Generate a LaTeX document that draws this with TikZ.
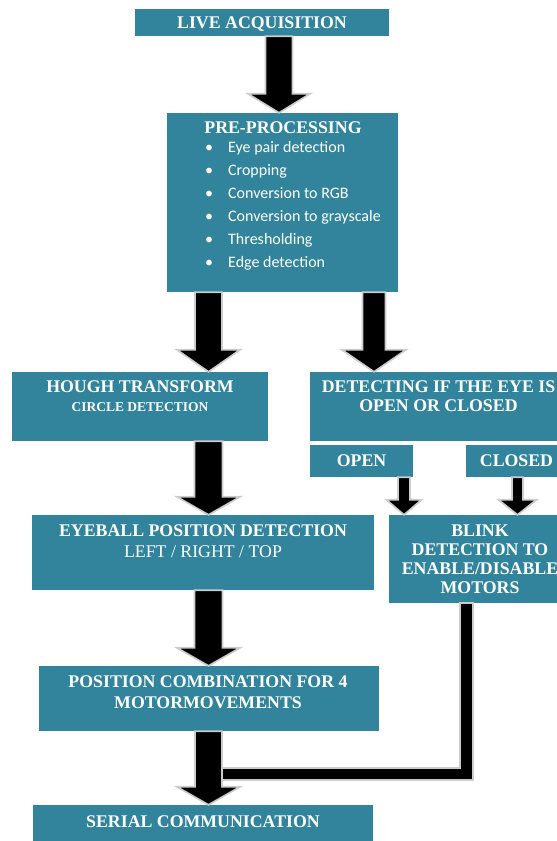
\documentclass[tikz,border=0pt]{standalone}
\usepackage{fontspec}
\setmainfont{Liberation Serif}
\newfontfamily\calfont{Carlito}
\usetikzlibrary{calc}
\definecolor{tealbox}{HTML}{31849B}
\newcommand\blockarrow[6]{%
  \draw[arr] let \p1=(#2.south), \p2=(#3.north) in
   (#1pt-#4pt,\y1) -- (#1pt-#4pt,\y2+#6pt) -- (#1pt-#5pt,\y2+#6pt) -- (#1pt,\y2)
   -- (#1pt+#5pt,\y2+#6pt) -- (#1pt+#4pt,\y2+#6pt) -- (#1pt+#4pt,\y1) -- cycle;}
\begin{document}
\begin{tikzpicture}[x=1pt,y=-1pt,
  box/.style={fill=tealbox, draw=none, inner sep=0pt},
  ttl/.style={text=white, font=\fontsize{17.8}{19}\selectfont\bfseries, align=center, inner sep=0pt, text depth=0pt},
  listtxt/.style={text=white, font=\calfont\fontsize{16}{23}\selectfont, align=left, inner sep=0pt},
  arr/.style={fill=black, draw=black!20, line width=1.7pt, line join=miter}]
\useasboundingbox (0,0) rectangle (557,841);

% boxes
\node[box, ttl, minimum width=254pt, minimum height=27pt] (live) at (262,22.5) {LIVE ACQUISITION};
\node[box, minimum width=231pt, minimum height=179pt] (pre) at (282.5,202.5) {};
\node[ttl] (preT) at (283,128) {PRE-PROCESSING};
\node[listtxt, anchor=north west] (preL) at (205,141) {%
\makebox[23pt][l]{\textbullet}Eye pair detection\\
\makebox[23pt][l]{\textbullet}Cropping\\
\makebox[23pt][l]{\textbullet}Conversion to RGB\\
\makebox[23pt][l]{\textbullet}Conversion to grayscale\\
\makebox[23pt][l]{\textbullet}Thresholding\\
\makebox[23pt][l]{\textbullet}Edge detection};

\node[box, minimum width=256pt, minimum height=69pt] (hough) at (140,406.5) {};
\node[ttl, anchor=north] (houghT) at (140,381) {HOUGH TRANSFORM\\{\fontsize{13.5}{15}\selectfont CIRCLE DETECTION}};

\node[box, minimum width=257pt, minimum height=69pt] (detect) at (438.5,406.5) {};
\node[ttl, anchor=north] (detectT) at (438.5,381) {DETECTING IF THE EYE IS\\OPEN OR CLOSED};

\node[box, ttl, minimum width=103pt, minimum height=32pt] (open) at (361.5,461) {OPEN};
\node[box, ttl, minimum width=101pt, minimum height=32pt] (closed) at (516.5,461) {CLOSED};

\node[box, ttl, minimum width=182pt, minimum height=88pt] (blink) at (480,559) {BLINK\\DETECTION TO\\ENABLE/DISABLE\\MOTORS};

\node[box, minimum width=342pt, minimum height=75pt] (eyeball) at (203,552.5) {};
\node[ttl, anchor=north] (eyeballT) at (203,525) {EYEBALL POSITION DETECTION\\[2pt]{\mdseries LEFT / RIGHT / TOP}};

\node[box, minimum width=340pt, minimum height=65pt] (position) at (209,698.5) {};
\node[ttl, anchor=north] (positionT) at (208,676) {POSITION COMBINATION FOR 4\\[2pt]MOTORMOVEMENTS};

\node[box, minimum width=340pt, minimum height=40pt] (serial) at (203,825) {};
\node[ttl, anchor=north] (serialT) at (203,816) {SERIAL COMMUNICATION};

% arrows
\blockarrow{279}{live}{pre}{13.5}{31}{19}
\blockarrow{208.5}{pre}{hough}{13.5}{31.5}{22}
\blockarrow{374}{pre}{detect}{11.5}{32}{22}
\blockarrow{208.5}{hough}{eyeball}{14}{31.5}{18}
\blockarrow{404}{open}{blink}{6}{17.5}{15}
\blockarrow{517.5}{closed}{blink}{5.5}{19}{15}
\blockarrow{208.5}{eyeball}{position}{14}{31.5}{18}

\coordinate (join) at (222,774);
\draw[arr] let \p1=(blink.south), \p2=(join) in
  (460pt,\y1) -- (460pt,\y2+6pt) -- (\x2,\y2+6pt) -- (\x2,\y2-6pt)
  -- (473pt,\y2-6pt) -- (473pt,\y1) -- cycle;
\blockarrow{208.5}{position}{serial}{13.5}{31.5}{18}
\end{tikzpicture}
\end{document}
